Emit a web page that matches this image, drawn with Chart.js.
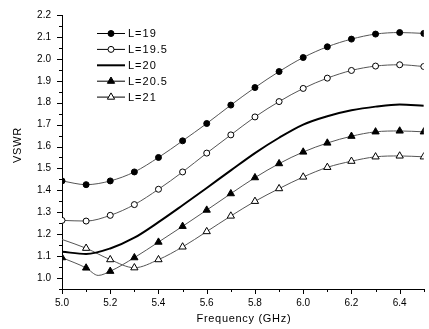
<!DOCTYPE html>
<html>
<head>
<meta charset="utf-8">
<script src="https://cdn.jsdelivr.net/npm/chart.js@4.4.1/dist/chart.umd.min.js"></script>
<style>
  html, body { margin: 0; padding: 0; background: #fff; }
  #wrap { width: 429px; height: 329px; }
</style>
</head>
<body>
<div id="wrap"><canvas id="chart"></canvas></div>
<script>
// values
const freq = [5.0, 5.1, 5.2, 5.3, 5.4, 5.5, 5.6, 5.7, 5.8, 5.9, 6.0, 6.1, 6.2, 6.3, 6.4, 6.5];
const l19  = [1.443, 1.426, 1.443, 1.484, 1.550, 1.626, 1.705, 1.789, 1.869, 1.942, 2.006, 2.055, 2.090, 2.113, 2.120, 2.116];
const l195 = [1.263, 1.260, 1.286, 1.335, 1.405, 1.484, 1.570, 1.653, 1.735, 1.805, 1.865, 1.912, 1.947, 1.967, 1.973, 1.965];
const l20  = [1.120, 1.110, 1.135, 1.184, 1.255, 1.332, 1.411, 1.491, 1.570, 1.640, 1.700, 1.738, 1.765, 1.782, 1.792, 1.786];
const freq205 = [5.0, 5.1, 5.15, 5.2, 5.3, 5.4, 5.5, 5.6, 5.7, 5.8, 5.9, 6.0, 6.1, 6.2, 6.3, 6.4, 6.5];
const l205 = [1.093, 1.046, 1.012, 1.031, 1.093, 1.164, 1.236, 1.310, 1.385, 1.458, 1.522, 1.575, 1.616, 1.647, 1.667, 1.671, 1.667];
const l21  = [1.176, 1.136, 1.084, 1.047, 1.084, 1.142, 1.212, 1.283, 1.350, 1.408, 1.461, 1.505, 1.533, 1.553, 1.557, 1.553];

const xTicks = [5.0, 5.2, 5.4, 5.6, 5.8, 6.0, 6.2, 6.4];
const yTicks = [1.0, 1.1, 1.2, 1.3, 1.4, 1.5, 1.6, 1.7, 1.8, 1.9, 2.0, 2.1, 2.2];
const xTitle = 'Frequency (GHz)';
const yTitle = 'VSWR';

const FONT = '"Liberation Sans", Arial, sans-serif';
const LINE = '#555';

function pts(xs, ys) { return xs.map((x, i) => ({ x: x, y: ys[i] })); }
// markers only on the 0.1 GHz grid
function onGrid(c) { const x = c.raw && c.raw.x; return Math.abs(x * 10 - Math.round(x * 10)) < 1e-6; }

function marker(ctx, style, filled, x, y, r) {
  ctx.beginPath();
  if (style === 'triangle') {
    let a = 0;
    ctx.moveTo(x + Math.sin(a) * r, y - Math.cos(a) * r);
    a += Math.PI * 2 / 3;
    ctx.lineTo(x + Math.sin(a) * r, y - Math.cos(a) * r);
    a += Math.PI * 2 / 3;
    ctx.lineTo(x + Math.sin(a) * r, y - Math.cos(a) * r);
    ctx.closePath();
  } else {
    ctx.arc(x, y, r, 0, Math.PI * 2);
  }
  ctx.fillStyle = filled ? '#000' : '#fff';
  ctx.fill();
  ctx.lineWidth = 1;
  ctx.strokeStyle = '#000';
  ctx.stroke();
}

// legend sitting inside the plot, Origin style
const insideLegend = {
  id: 'insideLegend',
  afterDraw(chart) {
    const ctx = chart.ctx;
    ctx.save();
    chart.data.datasets.forEach((ds, i) => {
      const y = 33.5 + i * 15.9;
      ctx.beginPath();
      ctx.moveTo(97, y);
      ctx.lineTo(125, y);
      ctx.lineWidth = ds.borderWidth;
      ctx.strokeStyle = '#000';
      ctx.stroke();
      if (ds.markerStyle) marker(ctx, ds.markerStyle, ds.markerFilled, 111, y, ds.markerStyle === 'triangle' ? 4.2 : 3);
      ctx.fillStyle = '#000';
      ctx.font = '11px ' + FONT;
      ctx.letterSpacing = '1px';
      ctx.textBaseline = 'middle';
      ctx.textAlign = 'left';
      ctx.fillText(ds.label, 128, y + 0.5);
    });
    ctx.restore();
  }
};

// outward major + minor ticks, and the axis titles
const axisDecor = {
  id: 'axisDecor',
  afterDraw(chart) {
    const ctx = chart.ctx, xs = chart.scales.x, ys = chart.scales.y;
    const a = chart.chartArea;
    ctx.save();
    ctx.strokeStyle = '#000';
    ctx.lineWidth = 1;
    ctx.beginPath();
    for (let k = 0; k <= 15; k++) {
      const v = 5.0 + k * 0.1;
      const px = Math.round(xs.getPixelForValue(v)) + 0.5;
      const len = k % 2 === 0 ? 5 : 3;
      ctx.moveTo(px, a.bottom);
      ctx.lineTo(px, a.bottom + len);
    }
    for (let k = 0; k <= 25; k++) {
      const v = 0.95 + k * 0.05;
      const py = Math.round(ys.getPixelForValue(v)) + 0.5;
      const len = k % 2 === 1 ? 5 : 3;
      ctx.moveTo(a.left, py);
      ctx.lineTo(a.left - len, py);
    }
    ctx.stroke();

    ctx.fillStyle = '#000';
    ctx.font = '11px ' + FONT;
    ctx.textAlign = 'center';
    ctx.textBaseline = 'alphabetic';
    ctx.letterSpacing = '0.7px';
    ctx.fillText(xTitle, (a.left + a.right) / 2 + 1, 321.5);
    ctx.translate(20.5, 145);
    ctx.rotate(-Math.PI / 2);
    ctx.letterSpacing = '0.8px';
    ctx.fillText(yTitle, 0, 0);
    ctx.restore();
  }
};

const markerSet = (style, filled) => ({
  markerStyle: style,
  markerFilled: filled,
  pointStyle: style,
  pointRadius: c => onGrid(c) ? (style === 'triangle' ? 4.2 : 3) : 0,
  pointBackgroundColor: filled ? '#000' : '#fff',
  pointBorderColor: '#000',
  pointBorderWidth: 1,
  borderColor: LINE,
  borderWidth: 1
});

new Chart(document.getElementById('chart'), {
  type: 'line',
  data: {
    datasets: [
      { label: 'L=19', data: pts(freq, l19), ...markerSet('circle', true) },
      { label: 'L=19.5', data: pts(freq, l195), ...markerSet('circle', false) },
      { label: 'L=20', data: pts(freq, l20), borderColor: '#000', borderWidth: 2, pointRadius: 0 },
      { label: 'L=20.5', data: pts(freq205, l205), ...markerSet('triangle', true) },
      { label: 'L=21', data: pts(freq, l21), ...markerSet('triangle', false),
        pointRadius: c => (onGrid(c) && c.dataIndex > 0) ? 4.2 : 0 }
    ]
  },
  options: {
    responsive: true,
    maintainAspectRatio: false,
    animation: false,
    layout: { padding: { top: 15, right: 0, bottom: 0, left: 0 } },
    plugins: { legend: { display: false }, tooltip: { enabled: false } },
    elements: { line: { cubicInterpolationMode: 'monotone' } },
    scales: {
      x: {
        type: 'linear', min: 5.0, max: 6.5,
        afterBuildTicks: s => { s.ticks = xTicks.map(v => ({ value: v })); },
        afterFit: s => { s.height = 40; },
        ticks: { color: '#000', font: { family: FONT, size: 10 }, padding: 3, maxRotation: 0, autoSkip: false, callback: v => Number(v).toFixed(1) },
        grid: { drawOnChartArea: false, tickLength: 5, tickColor: 'rgba(0,0,0,0)' },
        border: { color: '#000', width: 1 }
      },
      y: {
        type: 'linear', min: 0.95, max: 2.2,
        afterBuildTicks: s => { s.ticks = yTicks.map(v => ({ value: v })); },
        afterFit: s => { s.width = 62; },
        ticks: { color: '#000', font: { family: FONT, size: 10 }, padding: 6, autoSkip: false, callback: v => Number(v).toFixed(1) },
        grid: { drawOnChartArea: false, tickLength: 5, tickColor: 'rgba(0,0,0,0)' },
        border: { color: '#000', width: 1 }
      }
    }
  },
  plugins: [axisDecor, insideLegend]
});
</script>
</body>
</html>
